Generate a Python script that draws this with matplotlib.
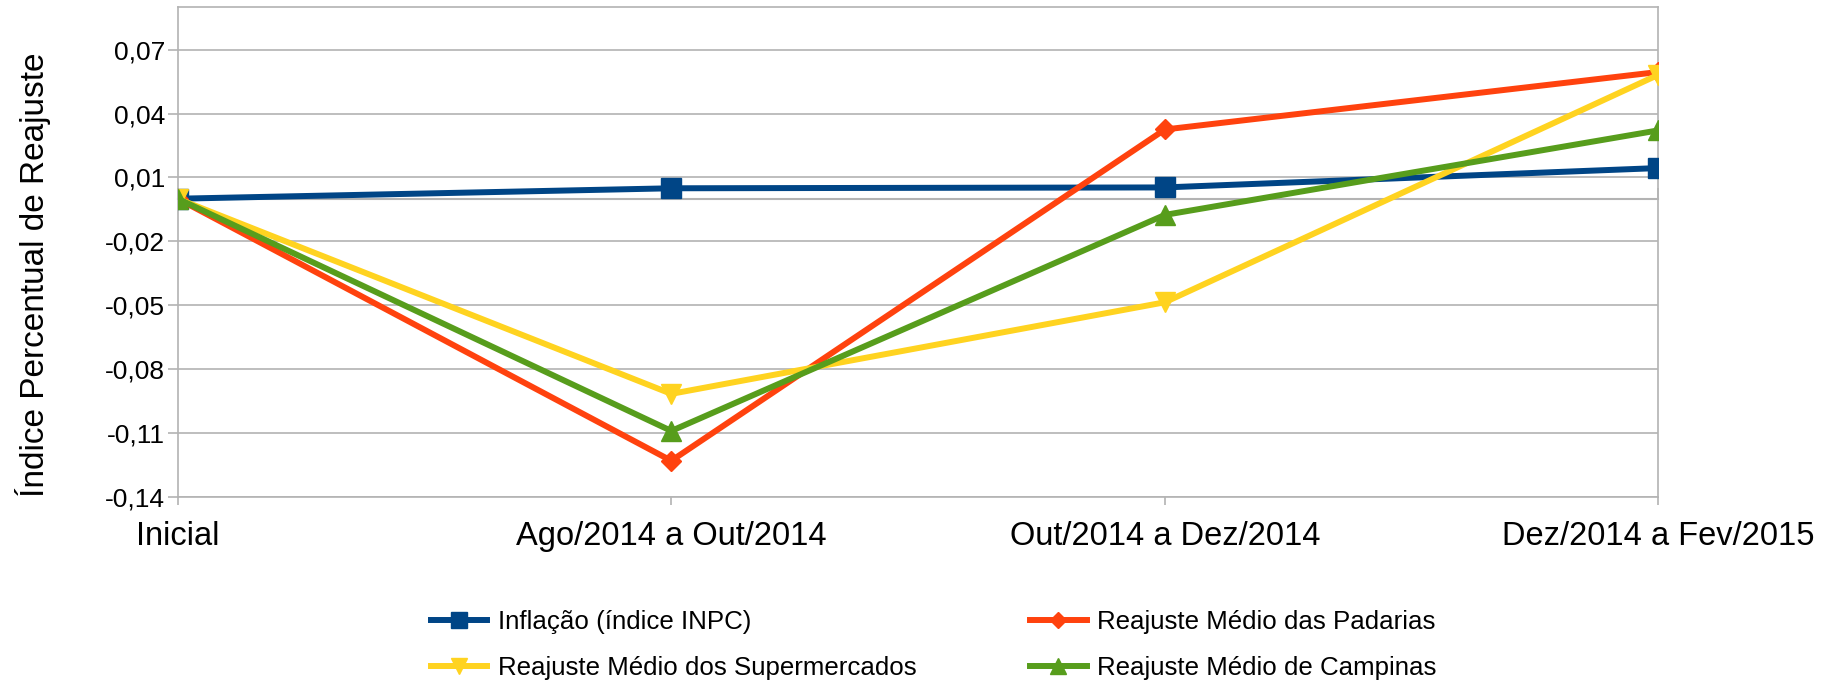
import matplotlib
matplotlib.use("Agg")
import matplotlib.pyplot as plt
from matplotlib.ticker import FuncFormatter

plt.rcParams['font.family'] = ['Liberation Sans', 'DejaVu Sans']

# Dados
categorias = ["Inicial", "Ago/2014 a Out/2014", "Out/2014 a Dez/2014", "Dez/2014 a Fev/2015"]
inflacao = [0.0, 0.0049, 0.0053, 0.0144]
padarias = [0.0, -0.123, 0.0325, 0.0595]
supermercados = [0.0, -0.0916, -0.0486, 0.0582]
campinas = [0.0, -0.109, -0.0076, 0.0321]

y_ticks = [-0.14, -0.11, -0.08, -0.05, -0.02, 0.01, 0.04, 0.07]

cinza = "#b3b3b3"

fig = plt.figure(figsize=(18.34, 6.85), dpi=100)
ax = fig.add_axes([0.0969, 0.2745, 0.8074, 0.7153])

x = list(range(len(categorias)))
lw = 4.3
l_inf, = ax.plot(x, inflacao, color="#004586", lw=lw, marker="s", ms=14, label="Inflação (índice INPC)", zorder=3)
l_pad, = ax.plot(x, padarias, color="#ff420e", lw=lw, marker="D", ms=10, label="Reajuste Médio das Padarias", zorder=4)
l_sup, = ax.plot(x, supermercados, color="#ffd320", lw=lw, marker="v", ms=14, label="Reajuste Médio dos Supermercados", zorder=5)
l_cam, = ax.plot(x, campinas, color="#579d1c", lw=lw, marker="^", ms=14, label="Reajuste Médio de Campinas", zorder=6)

ax.set_xlim(0, 3)
ax.set_ylim(-0.14, 0.09)
ax.set_yticks(y_ticks)
ax.yaxis.set_major_formatter(FuncFormatter(lambda v, p: f"{v:.2f}".replace(".", ",")))
ax.set_xticks(x)
ax.set_xticklabels(categorias)

ax.grid(axis="y", color=cinza, lw=1.2)
ax.set_axisbelow(True)
for s in ax.spines.values():
    s.set_color(cinza)
    s.set_linewidth(1.2)

ax.tick_params(axis="y", labelsize=19, length=7, width=1.2, color=cinza, pad=2)
ax.tick_params(axis="x", labelsize=23.5, length=6, width=1.2, color=cinza, pad=11)

# eixo x cruzando em zero
ymin, ymax = ax.get_ylim()
sec = ax.secondary_xaxis((0 - ymin) / (ymax - ymin))
sec.set_xticks(x)
sec.set_xticklabels([])
sec.tick_params(length=8, width=1.2, color=cinza, direction="out")
for s in sec.spines.values():
    s.set_color(cinza)
    s.set_linewidth(1.5)
    s.set_zorder(1)

ax.set_ylabel("Índice Percentual de Reajuste", fontsize=24, va="center")
ax.yaxis.set_label_coords(-0.0975, 0.453)

fig.legend(handles=[l_inf, l_sup, l_pad, l_cam], ncol=2, loc="center",
           bbox_to_anchor=(0.509, 0.059), frameon=False, fontsize=18.6,
           handlelength=2.2, handletextpad=0.4, columnspacing=4.4,
           labelspacing=0.85, markerscale=0.8)

fig.savefig("out.png", dpi=100)
